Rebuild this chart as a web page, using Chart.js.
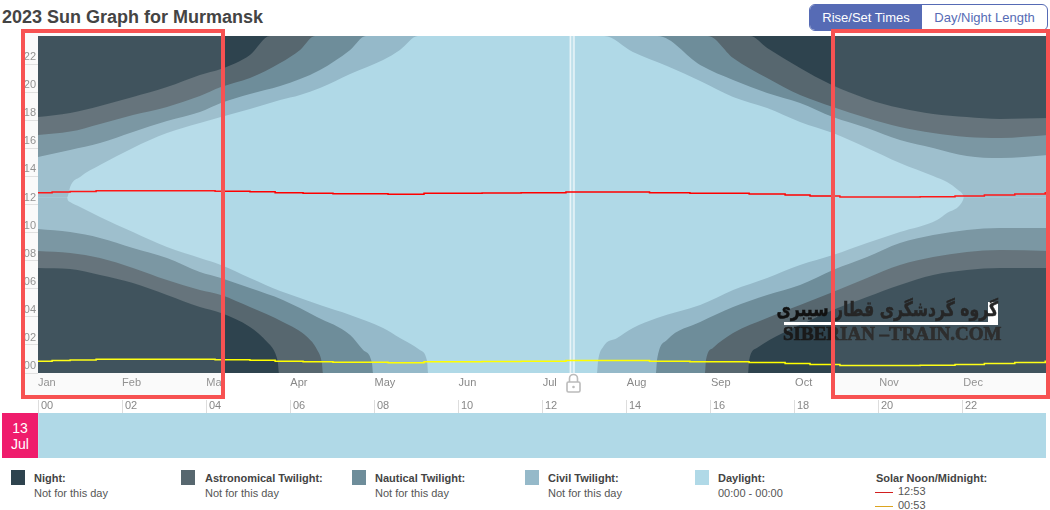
<!DOCTYPE html>
<html lang="en">
<head>
<meta charset="utf-8">
<title>2023 Sun Graph for Murmansk</title>
<script src="https://cdn.jsdelivr.net/npm/chart.js@4/dist/chart.umd.min.js"></script>
<style>
    html, body { margin: 0; padding: 0; background: #fff; }
    body { position: relative; width: 1050px; height: 510px; overflow: hidden; font-family: "Liberation Sans", Arial, sans-serif; color: #444; }
    .abs { position: absolute; }
    canvas { position: absolute; left: 0; z-index: 1; }
    #title { left: 2px; top: 7px; font-size: 18px; line-height: 20px; font-weight: bold; color: #444; white-space: nowrap; }
    #toggle { left: 809px; top: 4px; width: 237px; height: 25px; border: 1px solid #566bb5; border-radius: 6px; display: flex; overflow: hidden; font-size: 13px; line-height: 25px; text-align: center; color: #566bb5; }
    #toggle .on { width: 112px; background: #566bb5; color: #fff; }
    #toggle .off { flex: 1; }
    .boxBg { background: #fafafa; z-index: 0; top: 33px; height: 362px; }
    .box { border: 4px solid #f75252; background: rgba(255, 255, 255, 0.09); z-index: 3; top: 29px; height: 362px; box-sizing: content-box; }
    #dateBox { left: 2px; top: 413px; width: 36px; height: 45px; background: #ef1c6c; color: #fff; font-size: 14px; line-height: 16px; text-align: center; z-index: 2; padding-top: 7px; box-sizing: border-box; }
    .swatch { top: 470px; width: 14px; height: 15px; }
    .legName { top: 472px; font-size: 11px; line-height: 13px; font-weight: bold; color: #444; white-space: nowrap; }
    .legSub { top: 487px; font-size: 11px; line-height: 13px; color: #555; white-space: nowrap; }
    .legLine { width: 18px; height: 1px; }
    #waterFa { left: 600px; top: 294px; width: 398px; text-align: right; font-family: "DejaVu Sans", sans-serif; font-weight: bold; font-size: 20px; line-height: 30px; color: #111; -webkit-text-stroke: 0.5px #111; white-space: nowrap; z-index: 2; transform: scaleX(0.78); transform-origin: right top; }
    #waterEn { left: 783px; top: 324px; font-family: "Liberation Serif", serif; font-weight: bold; font-size: 19px; line-height: 20px; color: #1a1a1a; -webkit-text-stroke: 0.7px #1a1a1a; white-space: nowrap; z-index: 2; }
</style>
</head>
<body>
<div id="title" class="abs">2023 Sun Graph for Murmansk</div>
<div id="toggle" class="abs"><div class="on">Rise/Set Times</div><div class="off">Day/Night Length</div></div>

<div class="abs boxBg" style="left:25px;width:196px"></div>
<div class="abs boxBg" style="left:835px;width:211px"></div>

<canvas id="sunChart" width="1050" height="398" style="top:0"></canvas>
<canvas id="dayChart" width="1050" height="60" style="top:398px"></canvas>

<div class="abs" style="left:784px;top:322px;width:214px;height:3px;background:#fff;z-index:2"></div>
<div class="abs" style="left:988px;top:302px;width:10px;height:20px;background:#fff;z-index:2"></div>
<div id="waterFa" class="abs" dir="rtl">گروه گردشگری قطار سیبری</div>
<div id="waterEn" class="abs">SIBERIAN –TRAIN.COM</div>

<div class="abs box" style="left:21px;width:196px"></div>
<div class="abs box" style="left:831px;width:211px"></div>

<svg class="abs" style="left:565px;top:373px;z-index:2" width="17" height="20" viewBox="0 0 17 20">
    <path d="M4.5 9 V5.5 a4 4 0 0 1 8 0 V9" fill="none" stroke="#bbb" stroke-width="1.6"/>
    <rect x="2" y="9" width="13" height="10" rx="1.5" fill="#fff" stroke="#bbb" stroke-width="1.6"/>
    <circle cx="8.5" cy="14" r="1.3" fill="#bbb"/>
</svg>

<div id="dateBox" class="abs">13<br>Jul</div>
<div id="legend"></div>

<script>
// Day of year (x) and hour of day (y) of each band edge
const nightEveDays = [0, 11.6, 22.4, 34.3, 46.6, 58.5, 66.1, 76.6, 83.8, 257.3, 263.5, 275.4, 286.2, 299.6, 311.5, 323.5, 335.7, 347.7, 365];
const nightEveHours = [18.23, 18.52, 19.02, 19.66, 20.37, 21.23, 21.65, 22.65, 24, 24, 23.15, 21.72, 20.58, 19.52, 18.87, 18.45, 18.23, 18.09, 18.16];
const astroEveDays = [0, 11.6, 22.4, 34.3, 46.6, 58.5, 66.1, 76.6, 87.5, 94.7, 100.1, 242.1, 251.2, 263.5, 275.4, 287.3, 299.6, 311.5, 323.5, 335.7, 347.7, 365];
const astroEveHours = [16.95, 17.19, 17.74, 18.38, 18.95, 19.73, 20.37, 21.01, 22.08, 23.01, 24, 24, 22.44, 21.01, 19.80, 18.95, 18.16, 17.52, 17.09, 16.81, 16.74, 16.95];
const nauticalEveDays = [0, 11.6, 22.4, 34.3, 46.6, 58.5, 66.1, 76.6, 87.5, 94.7, 101.9, 112.8, 118.5, 224, 239.3, 251.2, 263.5, 275.4, 287.3, 299.6, 311.5, 323.5, 335.7, 347.7, 365];
const nauticalEveHours = [15.38, 15.88, 16.38, 17.17, 17.95, 18.59, 19.23, 19.87, 20.44, 20.94, 21.58, 23.01, 24, 24, 21.94, 20.87, 19.94, 19.23, 18.23, 17.45, 16.60, 16.03, 15.46, 15.31, 15.53];
const civilEveDays = [0, 10.5, 10.8, 11.6, 15.2, 22.4, 34.3, 46.6, 58.5, 66.1, 76.6, 87.5, 94.7, 101.9, 112.8, 124.7, 130.8, 137.3, 204.6, 215, 227.3, 239.3, 251.2, 263.5, 275.4, 287.3, 299.6, 311.5, 323.5, 328.5, 332.5, 334.3, 334.6, 365];
const civilEveHours = [12.5, 12.5, 12.6, 13.25, 13.96, 14.81, 16.03, 17.09, 17.81, 18.23, 18.80, 19.44, 19.80, 20.30, 21.30, 22.29, 23.01, 24, 24, 22.86, 21.87, 20.80, 19.66, 18.87, 17.88, 17.09, 16.03, 14.96, 14.03, 13.60, 13.03, 12.68, 12.5, 12.5];

const civilMornDays = [0, 10.5, 10.8, 11.6, 15.2, 22.4, 34.3, 46.6, 58.5, 66.1, 76.6, 87.5, 94.7, 101.9, 112.8, 124.7, 130.8, 138, 140.6, 141, 202, 202.4, 204.2, 209.3, 215, 223.7, 239.3, 251.2, 263.5, 275.4, 287.3, 299.6, 311.5, 324.9, 328.5, 332.5, 334.3, 334.6, 365];
const civilMornHours = [12.5, 12.5, 12.3, 12.18, 11.82, 11.11, 10.04, 8.97, 8.19, 7.69, 6.77, 5.84, 5.34, 4.84, 4.13, 3.21, 2.49, 1.64, 0.85, 0, 0, 0.85, 1.85, 2.49, 3.21, 3.92, 4.84, 5.91, 6.77, 7.69, 8.40, 9.26, 10.04, 10.90, 11.40, 11.82, 12.32, 12.5, 12.5];
const nauticalMornDays = [0, 11.6, 22.4, 34.3, 46.6, 58.5, 66.1, 76.6, 88.5, 100.8, 112.8, 117.5, 120.7, 121.1, 223.3, 223.7, 227.3, 239.3, 251.2, 263.5, 275.4, 287.3, 299.6, 311.5, 323.5, 335.7, 347.7, 365];
const nauticalMornHours = [10.26, 10.04, 9.62, 8.90, 8.19, 7.19, 6.77, 6.05, 5.20, 3.99, 2.71, 1.64, 0.71, 0, 0, 0.93, 2.35, 3.63, 4.70, 5.56, 6.27, 7.34, 8.26, 9.26, 9.83, 10.19, 10.33, 10.33];
const astroMornDays = [0, 11.6, 22.4, 34.3, 46.6, 58.5, 66.1, 76.6, 88.5, 97.3, 100.9, 102.6, 103, 241, 241.4, 243.9, 251.2, 263.5, 275.4, 287.3, 299.6, 311.5, 323.5, 335.7, 347.7, 365];
const astroMornHours = [8.69, 8.55, 8.19, 7.48, 6.62, 5.91, 5.56, 4.70, 3.63, 2.56, 1.64, 0.71, 0, 0, 0.93, 1.78, 2.85, 3.92, 4.84, 5.77, 6.77, 7.69, 8.26, 8.62, 8.76, 8.69];
const nightMornDays = [0, 11.6, 22.4, 34.3, 46.6, 58.5, 66.1, 76.6, 82.8, 85.7, 86.7, 87.1, 256.6, 257, 259.8, 269.2, 275.4, 287.3, 299.6, 311.5, 323.5, 335.7, 347.7, 365];
const nightMornHours = [7.48, 7.41, 6.98, 6.41, 5.56, 4.70, 4.27, 3.28, 2.21, 1.42, 0.71, 0, 0, 0.93, 1.78, 2.85, 3.42, 4.49, 5.41, 6.27, 6.98, 7.34, 7.48, 7.48];

const noonDays = [0, 5.1, 11.6, 21, 64, 76.6, 85.7, 95.8, 106.6, 126.5, 139.5, 160.5, 174.6, 190.8, 221, 235.6, 257, 270, 279, 289.8, 318.8, 331.4, 342, 353, 364, 365];
const noonHours = [12.84, 12.89, 12.93, 12.98, 12.95, 12.91, 12.84, 12.80, 12.77, 12.73, 12.80, 12.82, 12.84, 12.89, 12.84, 12.80, 12.75, 12.68, 12.61, 12.54, 12.56, 12.61, 12.68, 12.75, 12.84, 12.84];
const midnightHours = [0.84, 0.89, 0.93, 0.98, 0.95, 0.91, 0.84, 0.80, 0.77, 0.73, 0.80, 0.82, 0.84, 0.89, 0.84, 0.80, 0.75, 0.68, 0.61, 0.54, 0.56, 0.61, 0.68, 0.75, 0.84, 0.84];

const monthLabels = ['Jan', 'Feb', 'Mar', 'Apr', 'May', 'Jun', 'Jul', 'Aug', 'Sep', 'Oct', 'Nov', 'Dec'];
const monthTicks = [0, 30.4, 60.8, 91.2, 121.6, 152, 182.4, 212.8, 243.2, 273.6, 304, 334.4];
const hourTicks = [0, 2, 4, 6, 8, 10, 12, 14, 16, 18, 20, 22];
const hourLabels = ['00', '02', '04', '06', '08', '10', '12', '14', '16', '18', '20', '22'];
const markerDay = [193, 193];
const markerEdgeLeft = [192.4, 192.4];
const markerEdgeRight = [193.7, 193.7];
const markerHours = [0, 24];
const yearDays = [0, 365];
const yearTop = [24, 24];
const dayLabels = ['13 Jul'];
const dayDaylightHours = [24];

const legendNames = ['Night:', 'Astronomical Twilight:', 'Nautical Twilight:', 'Civil Twilight:', 'Daylight:'];
const legendValues = ['Not for this day', 'Not for this day', 'Not for this day', 'Not for this day', '00:00 - 00:00'];

const colors = {
    night: '#2e434e',
    astro: '#57676f',
    nautical: '#6e8d9a',
    civil: '#95b9c9',
    day: '#b0d9e7',
    tickText: '#888',
    tickLine: '#ddd'
};
const legendColors = [colors.night, colors.astro, colors.nautical, colors.civil, colors.day];
const legendLefts = [11, 181, 352, 525, 695];
const legendTextLefts = [34, 205, 375, 548, 718];

function toPoints(days, hours) {
    return days.map((d, i) => ({ x: d, y: hours[i] }));
}

function band(days, hours, color, fillTo) {
    return {
        data: toPoints(days, hours),
        backgroundColor: color,
        borderWidth: 0,
        pointRadius: 0,
        fill: fillTo,
        cubicInterpolationMode: 'monotone'
    };
}

function line(days, hours, color, width) {
    return {
        data: toPoints(days, hours),
        borderColor: color,
        borderWidth: width,
        pointRadius: 0,
        fill: false
    };
}

// Chart.js paints the last dataset first, so the darkest bands go at the start
new Chart(document.getElementById('sunChart'), {
    type: 'line',
    data: {
        datasets: [
            { ...line(noonDays, noonHours, '#ff0000', 1.5), stepped: true },
            { ...line(noonDays, midnightHours, '#ffff00', 1.5), stepped: true },
            line(markerEdgeLeft, markerHours, 'rgba(255,255,255,0.65)', 1.5),
            line(markerEdgeRight, markerHours, 'rgba(255,255,255,0.65)', 1.5),
            line(markerDay, markerHours, 'rgba(255,255,255,0.2)', 5),
            band(nightEveDays, nightEveHours, colors.night, 'end'),
            band(nightMornDays, nightMornHours, colors.night, 'start'),
            band(astroEveDays, astroEveHours, colors.astro, 'end'),
            band(astroMornDays, astroMornHours, colors.astro, 'start'),
            band(nauticalEveDays, nauticalEveHours, colors.nautical, 'end'),
            band(nauticalMornDays, nauticalMornHours, colors.nautical, 'start'),
            band(civilEveDays, civilEveHours, colors.civil, 'end'),
            band(civilMornDays, civilMornHours, colors.civil, 'start'),
            band(yearDays, yearTop, colors.day, 'start')
        ]
    },
    options: {
        responsive: false,
        animation: false,
        layout: { padding: { top: 36, right: 2, left: 0, bottom: 0 } },
        plugins: { legend: { display: false }, tooltip: { enabled: false } },
        scales: {
            x: {
                type: 'linear',
                min: 0,
                max: 365,
                afterBuildTicks: (scale) => { scale.ticks = monthTicks.map((v) => ({ value: v })); },
                afterFit: (scale) => { scale.height = 25; },
                border: { display: false },
                grid: { display: false },
                ticks: {
                    autoSkip: false,
                    maxRotation: 0,
                    align: 'start',
                    padding: -5,
                    color: colors.tickText,
                    font: { family: 'Liberation Sans', size: 11 },
                    callback: (value, index) => monthLabels[index]
                }
            },
            y: {
                min: 0,
                max: 24,
                afterBuildTicks: (scale) => { scale.ticks = hourTicks.map((v) => ({ value: v })); },
                afterFit: (scale) => { scale.width = 38; },
                border: { display: false },
                grid: { drawOnChartArea: false, tickLength: 16, color: colors.tickLine },
                ticks: {
                    padding: -14,
                    labelOffset: -7,
                    color: colors.tickText,
                    font: { family: 'Liberation Sans', size: 11 },
                    callback: (value, index) => hourLabels[index]
                }
            }
        }
    }
});

// The strip under the graph: one day as a horizontal bar on a 24 hour axis
new Chart(document.getElementById('dayChart'), {
    type: 'bar',
    data: {
        labels: dayLabels,
        datasets: [{
            data: dayDaylightHours,
            backgroundColor: colors.day,
            borderWidth: 0,
            barPercentage: 1,
            categoryPercentage: 1
        }]
    },
    options: {
        indexAxis: 'y',
        responsive: false,
        animation: false,
        layout: { padding: { left: 38, right: 4, top: 0, bottom: 0 } },
        plugins: { legend: { display: false }, tooltip: { enabled: false } },
        scales: {
            y: { display: false },
            x: {
                position: 'top',
                min: 0,
                max: 24,
                afterBuildTicks: (scale) => { scale.ticks = hourTicks.map((v) => ({ value: v })); },
                afterFit: (scale) => { scale.height = 15; },
                border: { display: false },
                grid: { drawOnChartArea: false, tickLength: 13, color: colors.tickLine },
                ticks: {
                    autoSkip: false,
                    maxRotation: 0,
                    align: 'start',
                    labelOffset: 3,
                    padding: -13,
                    color: colors.tickText,
                    font: { family: 'Liberation Sans', size: 11 },
                    callback: (value, index) => hourLabels[index]
                }
            }
        }
    }
});

// Legend under the strip
const legend = document.getElementById('legend');
function addDiv(cls, left, text, style) {
    const el = document.createElement('div');
    el.className = 'abs ' + cls;
    el.style.left = left + 'px';
    if (style) el.style.cssText += style;
    if (text) el.textContent = text;
    legend.appendChild(el);
}
legendNames.forEach((name, i) => {
    addDiv('swatch', legendLefts[i], '', 'background:' + legendColors[i]);
    addDiv('legName', legendTextLefts[i], name);
    addDiv('legSub', legendTextLefts[i], legendValues[i]);
});
addDiv('legName', 876, 'Solar Noon/Midnight:');
addDiv('legLine', 875, '', 'top:492px;background:#d21f1f');
addDiv('legSub', 898, '12:53', 'top:485px');
addDiv('legLine', 875, '', 'top:506px;background:#dca520');
addDiv('legSub', 898, '00:53', 'top:499px');
</script>
</body>
</html>
